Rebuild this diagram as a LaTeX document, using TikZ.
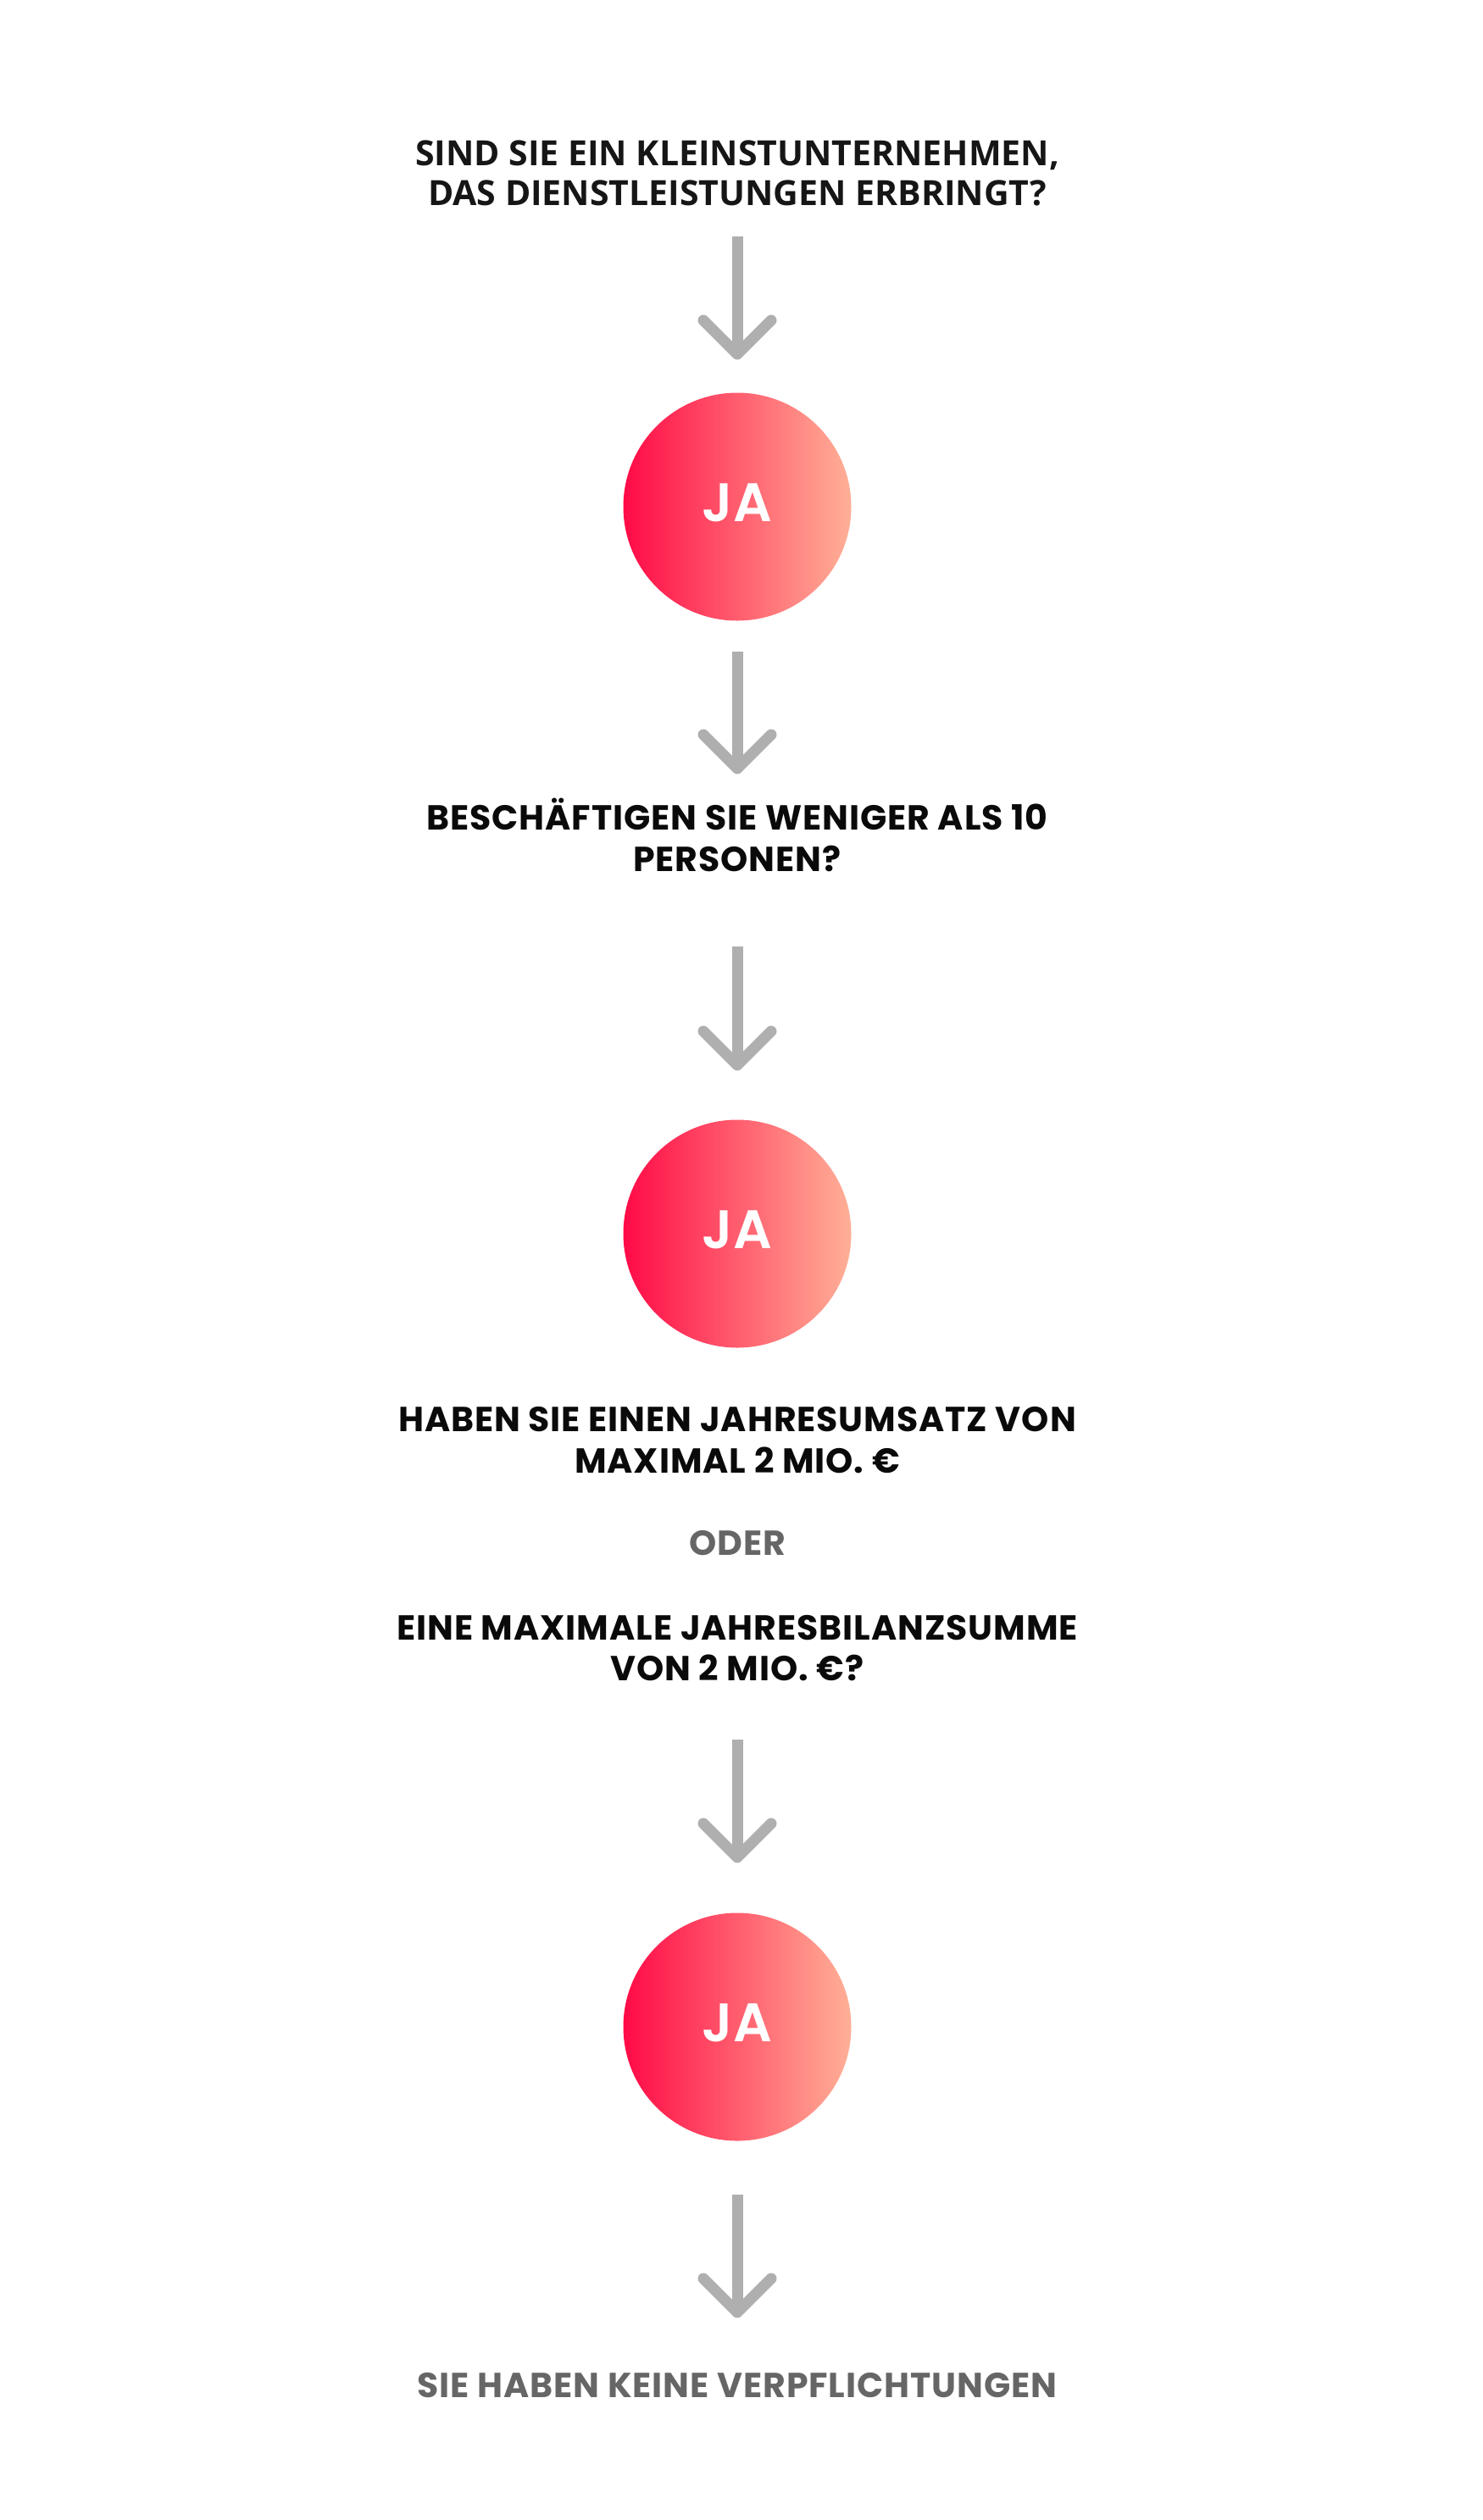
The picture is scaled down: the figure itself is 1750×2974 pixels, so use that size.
\documentclass[tikz,border=0pt]{standalone}
\usepackage{fontspec}
\newfontfamily\titlefont{Open Sans}
\newfontfamily\bodyfont{Poppins}[UprightFont=* Bold,LetterSpace=2.3]
\newfontfamily\jafont{Poppins}[UprightFont=* SemiBold]
\definecolor{arrowgray}{HTML}{AFAFAF}
\definecolor{jaL}{HTML}{FF0A46}
\definecolor{jaR}{HTML}{FFB097}
\definecolor{qblack}{HTML}{0A0A0A}
\definecolor{tblack}{HTML}{161616}
\definecolor{ggray}{HTML}{666666}
\newcommand{\flowarrow}[3]{%
  \coordinate (#1s) at (870,#2);
  \coordinate (#1e) at (870,#3);
  \draw[arr] (#1s) -- (#1e);
  \draw[wing] ([shift={(-40,-40)}]#1e) -- (#1e) -- ([shift={(40,-40)}]#1e);}
\begin{document}
\begin{tikzpicture}[x=1pt,y=-1pt,
  arr/.style={draw=arrowgray,line width=13pt},
  wing/.style={draw=arrowgray,line width=13pt,line cap=round,line join=round},
  ja/.style={circle,minimum size=269pt,inner sep=0pt,left color=jaL,right color=jaR,
    text=white,font=\jafont\fontsize{64}{64}\selectfont,text height=46pt,text depth=11pt},
  q/.style={anchor=base,text=qblack,inner sep=0pt,font=\bodyfont\fontsize{41}{41}\selectfont},
  tq/.style={anchor=base,text=tblack,inner sep=0pt,font=\titlefont\bfseries\fontsize{41}{41}\selectfont},
  gq/.style={q,text=ggray}]
\fill[white] (0,0) rectangle (1750,2974);
\useasboundingbox (0,0) rectangle (1750,2974);

\node[tq] (t1a) at (870,195) {SIND SIE EIN KLEINSTUNTERNEHMEN,};
\node[tq] (t1b) at (870,242) {DAS DIENSTLEISTUNGEN ERBRINGT?};

\flowarrow{a1}{279}{418}
\node[ja] (c1) at (870,598) {JA};
\flowarrow{a2}{769}{907}

\node[q] (t2a) at (870,979) {BESCHÄFTIGEN SIE WENIGER ALS 10};
\node[q] (t2b) at (870,1028) {PERSONEN?};

\flowarrow{a3}{1117}{1257}
\node[ja] (c2) at (870,1456) {JA};

\node[q] (t3a) at (870,1689) {HABEN SIE EINEN JAHRESUMSATZ VON};
\node[q] (t3b) at (870,1738) {MAXIMAL 2 MIO. €};
\node[gq] (oder) at (870,1835) {ODER};
\node[q] (t4a) at (870,1935) {EINE MAXIMALE JAHRESBILANZSUMME};
\node[q] (t4b) at (870,1983) {VON 2 MIO. €?};

\flowarrow{a4}{2053}{2192}
\node[ja] (c3) at (870,2392) {JA};
\flowarrow{a5}{2590}{2729}

\node[gq] (end) at (870,2829) {SIE HABEN KEINE VERPFLICHTUNGEN};
\end{tikzpicture}
\end{document}
